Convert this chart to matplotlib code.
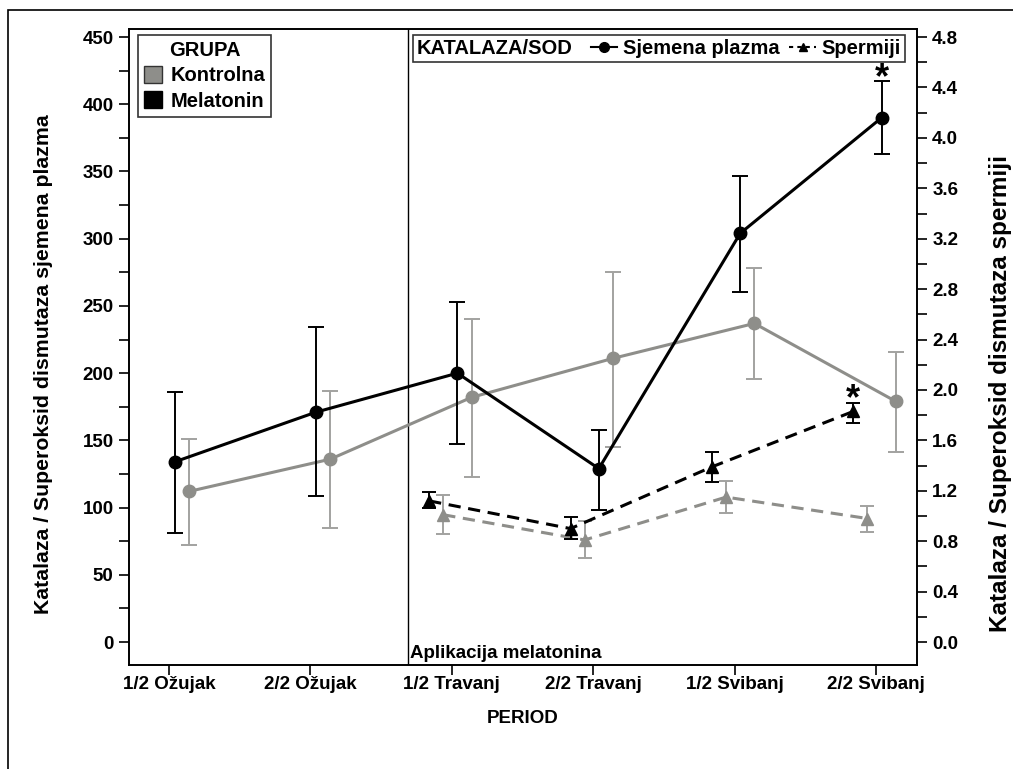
import numpy as np
import matplotlib.pyplot as plt
from matplotlib.lines import Line2D
from matplotlib.patches import Patch, Rectangle
from matplotlib.offsetbox import HPacker

plt.rcParams['font.family'] = ['Liberation Sans', 'DejaVu Sans']
plt.rcParams['font.weight'] = 'bold'
plt.rcParams['axes.labelweight'] = 'bold'

periods = ['1/2 Ožujak', '2/2 Ožujak', '1/2 Travanj', '2/2 Travanj', '1/2 Svibanj', '2/2 Svibanj']

# sjemena plazma (left axis)
mel_plazma = [134, 171, 200, 129, 304, 390]
mel_plazma_hi = [186, 234, 253, 158, 347, 417]
mel_plazma_lo = [81, 109, 147, 98, 260, 363]
kon_plazma = [112, 136, 182, 211, 237, 179]
kon_plazma_hi = [151, 187, 240, 275, 278, 216]
kon_plazma_lo = [72, 85, 123, 145, 196, 141]

# spermiji (right axis), only from 1/2 Travanj
sp_idx = [2, 3, 4, 5]
mel_sperm = [1.12, 0.90, 1.39, 1.83]
mel_sperm_hi = [1.19, 0.99, 1.51, 1.90]
mel_sperm_lo = [1.06, 0.82, 1.27, 1.74]
kon_sperm = [1.01, 0.81, 1.15, 0.98]
kon_sperm_hi = [1.17, 0.96, 1.28, 1.08]
kon_sperm_lo = [0.86, 0.67, 1.02, 0.87]

black = '#000000'
grey = '#8e8e8a'
grey_err = '#a2a2a0'
fs = 13.5
fs_leg = 14.5

fig = plt.figure(figsize=(10.13, 7.69), dpi=100)
fig.patches.append(Rectangle((8/1013, -0.01), 1.0, 1 - 10/769 + 0.01, transform=fig.transFigure,
                             fill=False, edgecolor='black', linewidth=1.2))
ax = fig.add_axes([0.1273, 0.1352, 0.7779, 0.8271])
ax2 = ax.twinx()

x = np.arange(len(periods))
xs = np.array(sp_idx)

def errs(v, hi, lo):
    v = np.array(v); return [v - np.array(lo), np.array(hi) - v]

# plasma
ax.errorbar(x + 0.14, kon_plazma, yerr=errs(kon_plazma, kon_plazma_hi, kon_plazma_lo), color=grey,
            ecolor=grey_err, elinewidth=1.4, capsize=6, capthick=1.4, marker='o', markersize=9,
            linewidth=2.2, zorder=3)
ax.errorbar(x + 0.04, mel_plazma, yerr=errs(mel_plazma, mel_plazma_hi, mel_plazma_lo), color=black,
            ecolor=black, elinewidth=1.4, capsize=6, capthick=1.4, marker='o', markersize=9,
            linewidth=2.2, zorder=4)

# sperm
ax2.errorbar(xs - 0.06, kon_sperm, yerr=errs(kon_sperm, kon_sperm_hi, kon_sperm_lo), color=grey,
             ecolor=grey_err, elinewidth=1.4, capsize=5, capthick=1.4, marker='^', markersize=8,
             linewidth=2.2, linestyle=(0, (4, 2.5)), zorder=3)
ax2.errorbar(xs - 0.16, mel_sperm, yerr=errs(mel_sperm, mel_sperm_hi, mel_sperm_lo), color=black,
             ecolor=black, elinewidth=1.4, capsize=5, capthick=1.4, marker='^', markersize=8,
             linewidth=2.2, linestyle=(0, (4, 2.5)), zorder=4)

ax.axvline(1.69, color=black, linewidth=1)
ax.text(1.705, -15, 'Aplikacija melatonina', fontsize=fs, ha='left', va='bottom')

# significance marks
ax.text(5.04, mel_plazma_hi[5] - 5, '*', fontsize=26, ha='center', va='baseline')
ax2.text(5 - 0.16, mel_sperm_hi[3] - 0.055, '*', fontsize=26, ha='center', va='baseline')

ax.set_xlim(-0.283, 5.29)
ax.set_ylim(-17.1, 456)
ax2.set_ylim(-17.1 / 93.75, 456 / 93.75)

ax.set_xticks(x)
ax.set_xticklabels(periods)
ax.set_yticks(np.arange(0, 451, 50))
ax.set_yticks(np.arange(25, 451, 50), minor=True)
ax2.set_yticks(np.arange(0, 4.81, 0.4))
ax2.set_yticks(np.arange(0.2, 4.81, 0.4), minor=True)
ax2.set_yticklabels(['%.1f' % v for v in np.arange(0, 4.81, 0.4)])

for a in (ax, ax2):
    a.tick_params(axis='both', which='major', length=7, width=1.2, labelsize=fs, pad=4)
    a.tick_params(axis='both', which='minor', length=7, width=1.2)
    for s in a.spines.values():
        s.set_linewidth(1.2)
ax.tick_params(axis='x', pad=1)

ax.set_xlabel('PERIOD', fontsize=fs, labelpad=12)
fig.text(44/1013, 1 - 364/769, 'Katalaza / Superoksid dismutaza sjemena plazma', fontsize=15.3,
         rotation=90, ha='center', va='center')
fig.text(1000/1013, 1 - 393/769, 'Katalaza / Superoksid dismutaza spermiji', fontsize=17.5,
         rotation=90, ha='center', va='center')

# legends
h1 = [Patch(facecolor=grey, edgecolor='#333333', label='Kontrolna'),
      Patch(facecolor=black, edgecolor=black, label='Melatonin')]
leg1 = ax2.legend(handles=h1, title='GRUPA', loc='upper left', bbox_to_anchor=(0.0114, 0.9906),
                  frameon=True, fancybox=False, edgecolor='black', fontsize=fs_leg,
                  title_fontproperties={'weight': 'bold', 'size': fs_leg},
                  handlelength=0.9, handleheight=0.9, handletextpad=0.4, borderpad=0.3,
                  labelspacing=0.3, borderaxespad=0)
leg1.get_frame().set_linewidth(1.2)
ax2.add_artist(leg1)

h2 = [Line2D([], [], color=black, marker='o', markersize=7, linewidth=1.5, label='Sjemena plazma'),
      Line2D([], [], color=black, marker='^', markersize=6, linewidth=1.5, linestyle=(0, (2, 2)),
             label='Spermiji')]
leg2 = ax2.legend(handles=h2, title='KATALAZA/SOD', loc='upper right', bbox_to_anchor=(0.9848, 0.9906),
                  ncol=2, frameon=True, fancybox=False, edgecolor='black', fontsize=fs_leg,
                  title_fontproperties={'weight': 'bold', 'size': fs_leg},
                  handlelength=1.3, handletextpad=0.3, columnspacing=0.5, borderpad=0.2,
                  borderaxespad=0)
leg2.get_frame().set_linewidth(1.2)
# put the title on the same row as the entries
box = HPacker(pad=0.2 * fs_leg, sep=0.9 * fs_leg, align='center',
              children=[leg2._legend_title_box, leg2._legend_handle_box])
box.set_figure(fig)
box.axes = ax2
leg2._legend_box = box
leg2._set_loc(leg2._loc)

fig.savefig('out.png', dpi=100)
